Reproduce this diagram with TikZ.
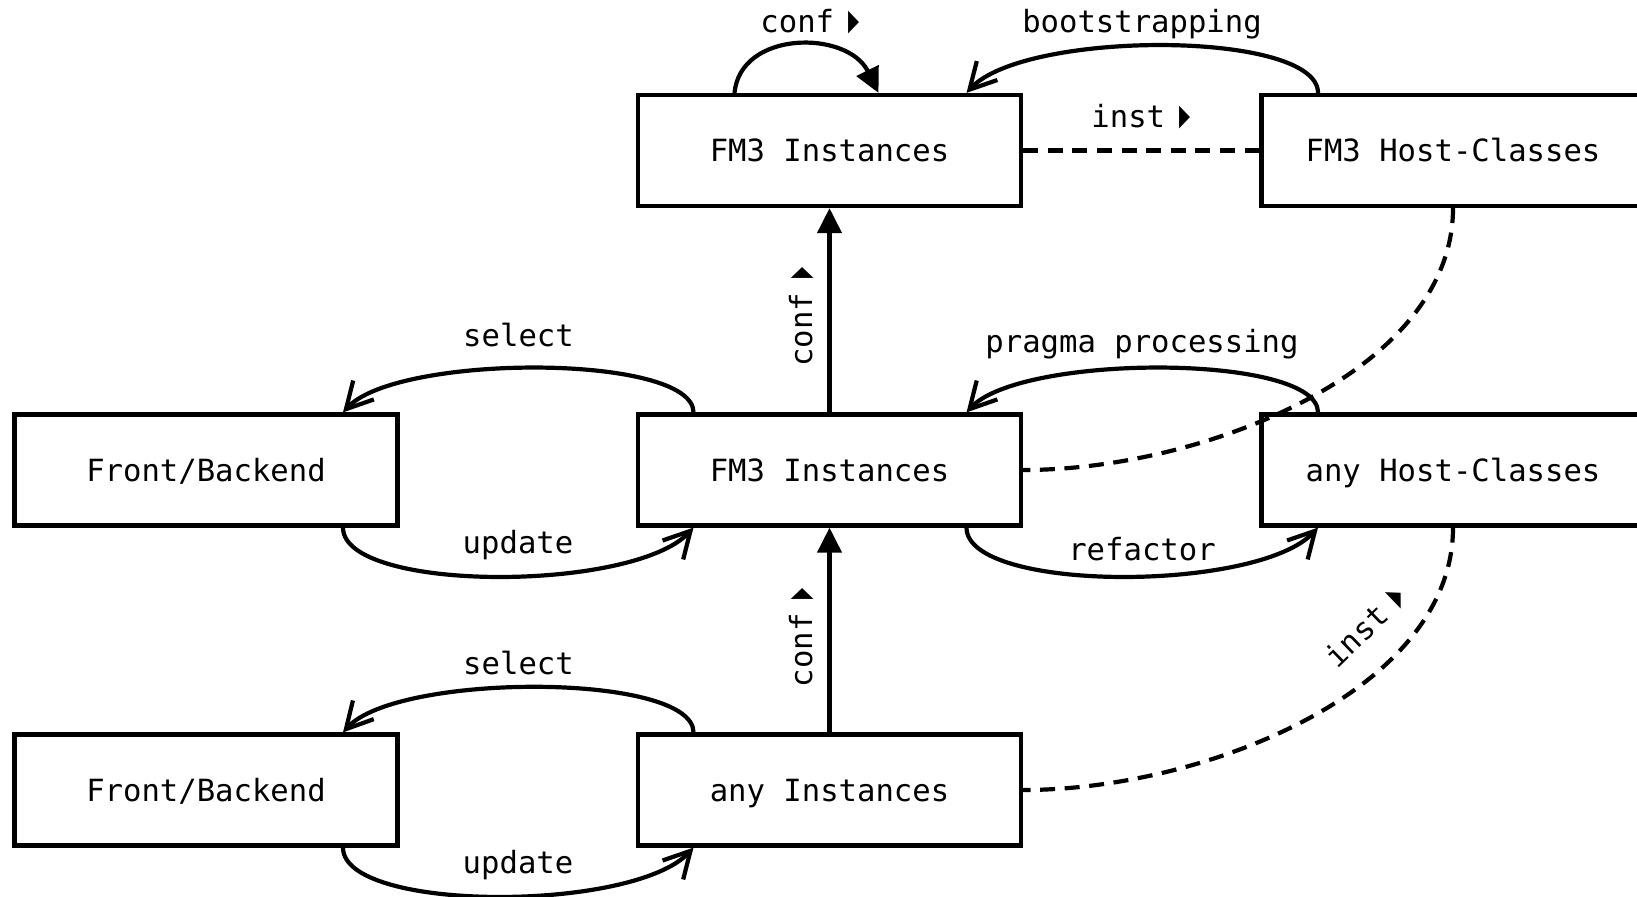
\documentclass[tikz,border=0pt]{standalone}
\usepackage{graphicx}
\usepackage{fontspec}
\setmonofont{DejaVu Sans Mono}
\newfontfamily\trifont{DejaVu Sans}
\usetikzlibrary{arrows.meta,calc}
\newcommand{\dirmark}{\kern7pt\raisebox{-1pt}{\scalebox{0.72}[1.5]{\trifont ▸}}}
\begin{document}
\begin{tikzpicture}[x=0.5pt,y=-0.5pt,
  every node/.style={font=\ttfamily\fontsize{15.3pt}{18pt}\selectfont},
  box/.style={draw, line width=2.1pt, minimum width=191.5pt, minimum height=55.5pt,
              text height=11.2pt, text depth=0pt, inner sep=0pt},
  lbl/.style={inner sep=0pt},
  link/.style={line width=2.1pt},
  tri/.style={link, -{Triangle[length=12.5pt,width=12pt]}},
  barb/.style={link, -{Straight Barb[length=13pt,width=14pt]}},
  dashlink/.style={link, dash pattern=on 7.5pt off 4.8pt}
]
\fill[white] (0,0) rectangle (1637,896);
\useasboundingbox (0,0) rectangle (1637,896);

% boxes
\node[box] (fmtop)   at (829.5,150.5) {FM3 Instances};
\node[box] (fmhost)  at (1453,150.5)  {FM3 Host-Classes};
\node[box] (fb1)     at (206,470)     {Front/Backend};
\node[box] (fmmid)   at (829.5,470)   {FM3 Instances};
\node[box] (anyhost) at (1453,470)    {any Host-Classes};
\node[box] (fb2)     at (206,790)     {Front/Backend};
\node[box] (anyinst) at (829.5,790)   {any Instances};

% top row
\draw[tri] ($(fmtop.north)+(-95,0)$) .. controls +(6,-63) and +(-31,-63) .. ($(fmtop.north)+(49,0)$);
\draw[barb] ($(fmhost.north)+(-135,0)$) .. controls +(0,-63) and +(58,-63) .. ($(fmtop.north)+(137,0)$);
\draw[dashlink] (fmtop.east) -- (fmhost.west);
\node[lbl, anchor=base west] (lconf0) at (760,32) {conf\dirmark};
\node[lbl, anchor=base] (lboot) at (1142,32) {bootstrapping};
\node[lbl, anchor=base west] (linst0) at (1091,127) {inst\dirmark};

% middle row
\draw[tri] (fmmid.north) -- (fmtop.south);
\node[lbl, anchor=base west, rotate=90] (lconf1) at (812,367) {conf\dirmark};
\draw[barb] ($(fmmid.north)+(-136,0)$) .. controls +(0,-59) and +(54,-59) .. ($(fb1.north)+(137,0)$);
\draw[barb] ($(fb1.south)+(137,0)$) .. controls +(0,65) and +(-60,65) .. ($(fmmid.south)+(-136,0)$);
\draw[barb] ($(anyhost.north)+(-135,0)$) .. controls +(0,-59) and +(54,-59) .. ($(fmmid.north)+(137,0)$);
\draw[barb] ($(fmmid.south)+(137,0)$) .. controls +(0,65) and +(-60,65) .. ($(anyhost.south)+(-135,0)$);
\draw[dashlink] (fmhost.south) .. controls +(0,164) and +(179,0) .. (fmmid.east);
\node[lbl, anchor=base] (lsel1) at (518.5,346) {select};
\node[lbl, anchor=base] (lupd1) at (518,553) {update};
\node[lbl, anchor=base] (lprag) at (1142,352) {pragma processing};
\node[lbl, anchor=base] (lref) at (1142,560) {refactor};

% bottom row
\draw[tri] (anyinst.north) -- (fmmid.south);
\node[lbl, anchor=base west, rotate=90] (lconf2) at (812,687.5) {conf\dirmark};
\draw[barb] ($(anyinst.north)+(-136,0)$) .. controls +(0,-60) and +(54,-60) .. ($(fb2.north)+(137,0)$);
\draw[barb] ($(fb2.south)+(137,0)$) .. controls +(0,65) and +(-60,65) .. ($(anyinst.south)+(-136,0)$);
\draw[dashlink] (anyhost.south) .. controls +(0,164) and +(179,0) .. (anyinst.east);
\node[lbl, anchor=base] (lsel2) at (518.5,674) {select};
\node[lbl, anchor=base] (lupd2) at (518,873.5) {update};
\node[lbl, anchor=base, rotate=44] (linst1) at (1373,635) {inst\dirmark};
\end{tikzpicture}
\end{document}
